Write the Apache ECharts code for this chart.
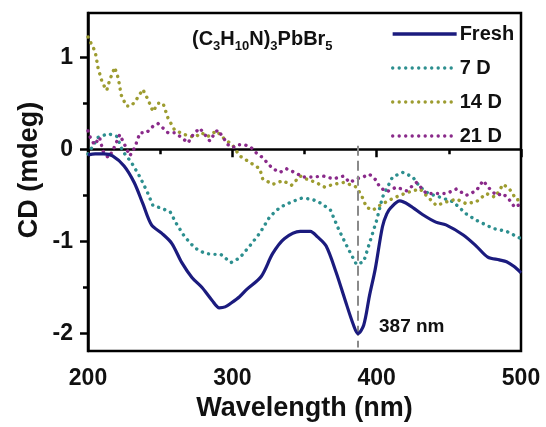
<!DOCTYPE html>
<html>
<head>
<meta charset="utf-8">
<script src="https://cdn.jsdelivr.net/npm/echarts@6/dist/echarts.min.js"></script>
<style>
  html, body { margin: 0; padding: 0; background: #fff; }
  #chart { width: 546px; height: 427px; }
</style>
</head>
<body>
<div id="chart"></div>
<script>
// CD spectra
var freshX = [200, 205, 211, 217, 225, 232, 238, 244, 251, 258, 265, 272, 279, 286, 291, 295, 299, 305, 310, 320, 328, 336, 347, 354, 359, 365, 372, 378, 384, 387, 391, 395, 399, 404, 407, 410, 416, 423, 432, 441, 448, 460, 469, 477, 485, 490, 495, 500];
var freshY = [-0.06, -0.05, -0.05, -0.07, -0.18, -0.36, -0.59, -0.82, -0.91, -1.02, -1.23, -1.39, -1.50, -1.64, -1.72, -1.71, -1.67, -1.60, -1.52, -1.38, -1.13, -0.97, -0.89, -0.89, -0.95, -1.05, -1.34, -1.63, -1.91, -2.00, -1.91, -1.59, -1.30, -0.84, -0.70, -0.63, -0.56, -0.61, -0.71, -0.79, -0.82, -0.93, -1.05, -1.17, -1.20, -1.22, -1.27, -1.34];

var d7X = [200, 207, 214, 220, 224, 230, 236, 241, 245, 251, 257, 261, 267, 274, 281, 287, 292, 299, 305, 312, 319, 326, 333, 341, 348, 355, 362, 368, 374, 380, 386, 391, 395, 400, 404, 411, 418, 425, 430, 436, 444, 453, 462, 469, 481, 490, 500];
var d7Y = [-0.05, 0.13, 0.17, 0.14, -0.02, -0.14, -0.30, -0.46, -0.61, -0.64, -0.68, -0.80, -0.95, -1.07, -1.13, -1.14, -1.14, -1.23, -1.18, -1.05, -0.91, -0.73, -0.63, -0.57, -0.53, -0.54, -0.59, -0.66, -0.88, -1.07, -1.25, -1.22, -1.02, -0.77, -0.52, -0.30, -0.25, -0.30, -0.41, -0.48, -0.52, -0.57, -0.70, -0.77, -0.86, -0.89, -0.97];

var d14X = [200, 205, 207, 210, 213, 215, 218.5, 221, 223, 226.6, 230, 233.5, 238, 241.6, 245, 248.5, 252, 255.4, 260, 267, 274, 278.6, 283, 289, 294.7, 300, 305, 312, 319, 321, 328, 335, 341, 347, 351, 358, 364, 370, 377, 383, 386, 389.5, 393, 397.5, 402, 409, 416, 423, 430, 435.6, 441.4, 448.4, 455.3, 462, 469, 476, 482, 487.6, 492, 497, 500];
var d14Y = [1.22, 1.06, 0.88, 0.72, 0.64, 0.75, 0.89, 0.77, 0.59, 0.47, 0.47, 0.54, 0.65, 0.54, 0.41, 0.50, 0.50, 0.34, 0.21, 0.16, 0.13, 0.18, 0.14, 0.20, 0.11, 0.05, -0.07, -0.14, -0.21, -0.32, -0.38, -0.34, -0.39, -0.29, -0.32, -0.36, -0.41, -0.38, -0.36, -0.39, -0.41, -0.50, -0.63, -0.66, -0.61, -0.55, -0.50, -0.46, -0.43, -0.52, -0.61, -0.57, -0.54, -0.59, -0.57, -0.48, -0.52, -0.38, -0.43, -0.55, -0.54];

var d21X = [200, 202, 204.6, 208, 210.4, 214, 217, 222, 225.4, 229, 232.4, 236, 240.5, 245, 248.5, 252, 255.4, 260, 264.7, 269.3, 272.8, 277.4, 281, 284.4, 288, 290, 293.6, 297, 300.5, 303, 308.6, 313, 316.7, 321, 325, 328, 333, 337.4, 343, 349, 356, 363, 370, 377, 381.4, 386, 390.6, 395, 400, 402, 407, 413.7, 420.7, 427.6, 434.5, 441.4, 448.4, 455.3, 462, 469, 473.7, 478.4, 483, 487.6, 492, 495.7, 500];
var d21Y = [0.20, 0.11, 0.05, 0.13, -0.02, -0.09, -0.02, 0.16, 0.05, -0.07, 0.02, 0.18, 0.18, 0.25, 0.28, 0.23, 0.18, 0.18, 0.13, 0.07, 0.16, 0.23, 0.16, 0.09, 0.18, 0.21, 0.13, 0.05, 0.02, 0.05, 0.05, 0.02, -0.04, -0.09, -0.16, -0.21, -0.25, -0.21, -0.25, -0.30, -0.30, -0.29, -0.32, -0.29, -0.36, -0.32, -0.30, -0.27, -0.34, -0.41, -0.46, -0.41, -0.45, -0.36, -0.48, -0.48, -0.48, -0.43, -0.50, -0.45, -0.34, -0.43, -0.50, -0.48, -0.55, -0.63, -0.59];

var seriesNames = ['Fresh', '7 D', '14 D', '21 D'];
var seriesColors = ['#1b1b7e', '#2d8f8f', '#9d9c30', '#8a2a8a'];
var yMajor = [-2, -1, 0, 1];
var yMinor = [-1.5, -0.5, 0.5];
var peakNm = 387;

function pairs(xs, ys) {
    return xs.map(function (x, i) { return [x, ys[i]]; });
}

var font = '"Liberation Sans", Arial, sans-serif';
var chart = echarts.init(document.getElementById('chart'), null, {renderer: 'canvas'});

function dotted(color) {
    return {color: color, width: 3.4, type: [0.1, 6.4], cap: 'round'};
}

var option = {
    animation: false,
    backgroundColor: '#fff',
    grid: {
        left: 88, right: 25, top: 13, bottom: 71,
        show: true, borderColor: '#000', borderWidth: 2.5, backgroundColor: 'transparent'
    },
    legend: {
        orient: 'vertical',
        left: 386, top: 19,
        itemWidth: 64, itemHeight: 20, itemGap: 14,
        data: seriesNames,
        itemStyle: {color: 'rgba(0,0,0,0)', borderWidth: 0, opacity: 0},
        lineStyle: {width: 3.3},
        textStyle: {fontFamily: font, fontWeight: 'bold', fontSize: 20, color: '#111', padding: [0, 0, 0, -2]}
    },
    xAxis: {
        type: 'value', min: 200, max: 500, interval: 100,
        name: 'Wavelength (nm)', nameLocation: 'middle', nameGap: 38,
        nameTextStyle: {fontFamily: font, fontWeight: 'bold', fontSize: 27, color: '#111'},
        axisLine: {lineStyle: {color: '#000', width: 2.5}},
        axisTick: {length: 8, lineStyle: {width: 2.5, color: '#000'}},
        minorTick: {show: true, splitNumber: 2, length: 5, lineStyle: {width: 2.5, color: '#000'}},
        axisLabel: {margin: 16, fontFamily: font, fontWeight: 'bold', fontSize: 23, color: '#111'},
        splitLine: {show: false}
    },
    yAxis: [{
        type: 'value', min: -2.19, max: 1.48,
        axisLine: {show: true, lineStyle: {color: '#000', width: 2.5}},
        axisTick: {show: true, length: 8, customValues: yMajor, lineStyle: {width: 2.5, color: '#000'}},
        axisLabel: {margin: 15, customValues: yMajor, fontFamily: font, fontWeight: 'bold', fontSize: 23, color: '#111'},
        splitLine: {show: false}
    }, {
        type: 'value', min: -2.19, max: 1.48, position: 'left',
        axisLine: {show: false},
        axisTick: {show: true, length: 5, customValues: yMinor, lineStyle: {width: 2.5, color: '#000'}},
        axisLabel: {show: false},
        splitLine: {show: false}
    }],
    series: [{
        name: seriesNames[0], type: 'line', data: pairs(freshX, freshY),
        showSymbol: false, symbol: 'none', smooth: 0.3, z: 5,
        color: seriesColors[0],
        lineStyle: {color: seriesColors[0], width: 3.2},
        markLine: {
            silent: true, symbol: 'none', label: {show: false},
            lineStyle: {color: '#8a8a8a', width: 2, type: [10, 5]},
            data: [[{coord: [peakNm, 0.04]}, {coord: [peakNm, -2.15]}]]
        }
    }, {
        name: seriesNames[1], type: 'line', data: pairs(d7X, d7Y),
        showSymbol: false, symbol: 'none', color: seriesColors[1],
        lineStyle: dotted(seriesColors[1])
    }, {
        name: seriesNames[2], type: 'line', data: pairs(d14X, d14Y),
        showSymbol: false, symbol: 'none', color: seriesColors[2],
        lineStyle: dotted(seriesColors[2])
    }, {
        name: seriesNames[3], type: 'line', data: pairs(d21X, d21Y),
        showSymbol: false, symbol: 'none', color: seriesColors[3],
        lineStyle: dotted(seriesColors[3])
    }],
    graphic: [{
        type: 'text', left: 192, top: 29,
        style: {
            text: '{m|(C}{s|3}{m|H}{s|10}{m|N)}{s|3}{m|PbBr}{s|5}',
            fill: '#111',
            rich: {
                m: {fontFamily: font, fontWeight: 'bold', fontSize: 20, lineHeight: 24, verticalAlign: 'top', fill: '#111'},
                s: {fontFamily: font, fontWeight: 'bold', fontSize: 13, lineHeight: 14, verticalAlign: 'bottom', fill: '#111'}
            }
        }
    }, {
        type: 'text', left: 379, top: 317,
        style: {text: peakNm + ' nm', fontFamily: font, fontWeight: 'bold', fontSize: 19, fill: '#111'}
    }, {
        type: 'text', x: 30, y: 170, rotation: Math.PI / 2,
        style: {
            text: 'CD (mdeg)', fontFamily: font, fontWeight: 'bold', fontSize: 27, fill: '#111',
            align: 'center', verticalAlign: 'middle'
        }
    }]
};

chart.setOption(option);
</script>
</body>
</html>
